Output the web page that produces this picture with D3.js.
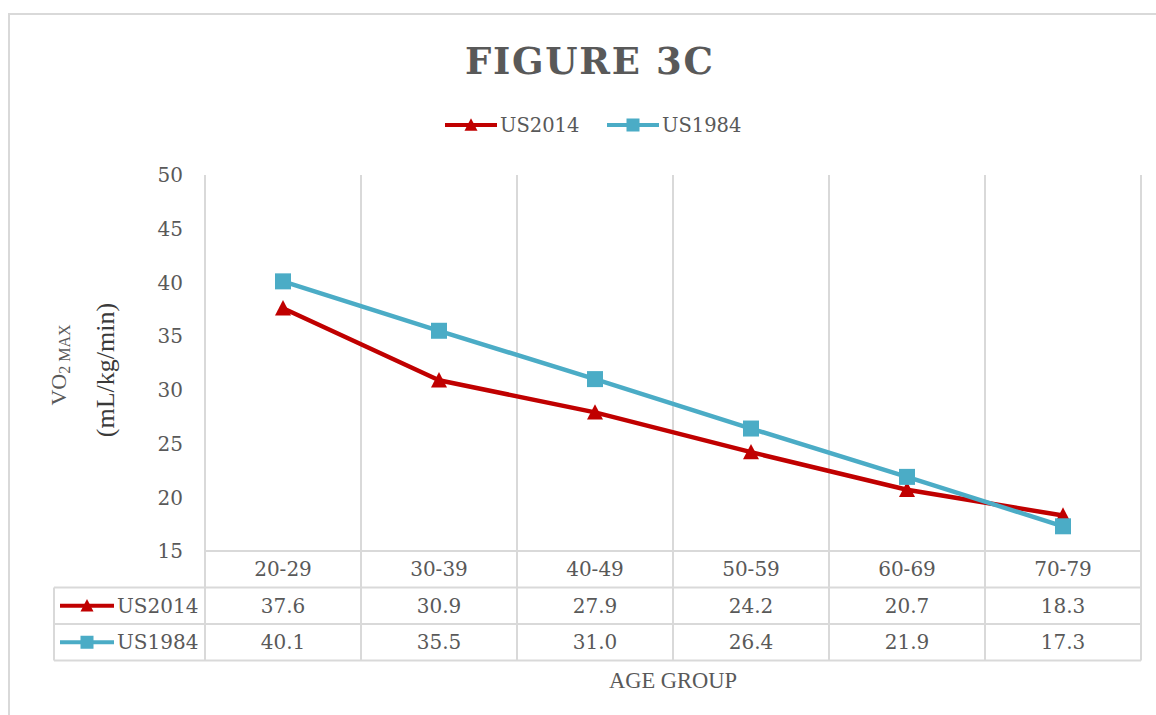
<!DOCTYPE html>
<html><head><meta charset="utf-8">
<script src="https://cdn.jsdelivr.net/npm/d3@7"></script>
<style>body{margin:0;background:#fff}svg{display:block}</style>
</head><body>
<svg id="c" width="1156" height="715"></svg>
<script>
const categories = ["20-29","30-39","40-49","50-59","60-69","70-79"];
const seriesNames = ["US2014","US1984"];
const us2014 = [37.6,30.9,27.9,24.2,20.7,18.3];
const us1984 = [40.1,35.5,31.0,26.4,21.9,17.3];
const yTicks = [15,20,25,30,35,40,45,50];
const title = "FIGURE 3C";
const xTitle = "AGE GROUP";

(function(){
const series = [
  {name: seriesNames[0], values: us2014, color: "#C00000", marker: "triangle"},
  {name: seriesNames[1], values: us1984, color: "#4BACC6", marker: "square"}
];

const svg = d3.select("#c");
const grid = "#d9d9d9", txt = "#595959";
const pL = 205, pR = 1141, pT = 175, pB = 551;
const rowH = 36.5, tableLeft = 54;

const x = d3.scaleBand().domain(categories).range([pL, pR]);
const y = d3.scaleLinear().domain([15, 50]).range([pB, pT]);

// outer frame
svg.append("path").attr("d", "M9,715 L9,14 L1156,14").attr("fill","none").attr("stroke", grid).attr("stroke-width", 2);

// title
svg.append("text").attr("x", 589).attr("y", 74).attr("text-anchor","middle")
  .attr("font-family","DejaVu Serif").attr("font-weight","bold").attr("font-size", 37)
  .attr("fill", txt).attr("textLength", 248).attr("lengthAdjust","spacing").text(title);

function drawMarker(g, type, cx, cy, s, color) {
  if (type === "square") {
    g.append("rect").attr("x", cx - s/2).attr("y", cy - s/2).attr("width", s).attr("height", s).attr("fill", color);
  } else {
    const h = s * 0.9;
    g.append("path").attr("d", `M${cx},${cy - h/2 - 1} L${cx + s/2},${cy + h/2} L${cx - s/2},${cy + h/2} Z`).attr("fill", color);
  }
}

// legend
const legX = [445, 607];
series.forEach((s, i) => {
  const g = svg.append("g");
  g.append("line").attr("x1", legX[i]).attr("x2", legX[i] + 52).attr("y1", 125).attr("y2", 125)
    .attr("stroke", s.color).attr("stroke-width", 4);
  drawMarker(g, s.marker, legX[i] + 26, 125, 13, s.color);
  g.append("text").attr("x", legX[i] + 55).attr("y", 132).attr("font-family","DejaVu Serif")
    .attr("font-size", 19.5).attr("fill", txt).text(s.name);
});

// vertical gridlines extending through the table
const bounds = categories.map(c => x(c)).concat([pR]);
bounds.forEach(bx => {
  svg.append("line").attr("x1", bx).attr("x2", bx).attr("y1", pT).attr("y2", pB + 3*rowH)
    .attr("stroke", grid).attr("stroke-width", 2);
});
[0,1,2,3].forEach(r => {
  const yy = pB + r*rowH;
  svg.append("line").attr("x1", r === 0 ? pL : tableLeft).attr("x2", pR)
    .attr("y1", yy).attr("y2", yy).attr("stroke", grid).attr("stroke-width", 2);
});
svg.append("line").attr("x1", tableLeft).attr("x2", tableLeft).attr("y1", pB + rowH).attr("y2", pB + 3*rowH)
  .attr("stroke", grid).attr("stroke-width", 2);

// y axis
const yAxis = d3.axisLeft(y).tickValues(yTicks).tickSize(0).tickPadding(22);
const ya = svg.append("g").attr("transform", `translate(${pL},0)`).call(yAxis);
ya.select(".domain").remove();
ya.selectAll("text").attr("font-family","DejaVu Serif").attr("font-size", 20).attr("fill", txt).attr("dy","0.34em");

// category row labels
const xAxis = d3.axisBottom(x).tickSize(0).tickPadding(0);
const xa = svg.append("g").attr("transform", `translate(0,${pB + rowH/2})`).call(xAxis);
xa.select(".domain").remove();
xa.selectAll("text").attr("font-family","DejaVu Serif").attr("font-size", 20).attr("fill", txt).attr("dy","0.34em");

// table data rows
series.forEach((s, i) => {
  const cy = pB + rowH*(i+1) + rowH/2;
  const g = svg.append("g");
  g.append("line").attr("x1", 60).attr("x2", 114).attr("y1", cy).attr("y2", cy)
    .attr("stroke", s.color).attr("stroke-width", 4);
  drawMarker(g, s.marker, 87, cy, 13, s.color);
  g.append("text").attr("x", 117).attr("y", cy).attr("dy","0.36em").attr("font-family","DejaVu Serif")
    .attr("font-size", 20).attr("fill", txt).text(s.name);
  g.selectAll("text.v").data(s.values).enter().append("text").attr("class","v")
    .attr("x", (d, j) => x(categories[j]) + x.bandwidth()/2).attr("y", cy).attr("dy","0.36em")
    .attr("text-anchor","middle").attr("font-family","DejaVu Serif").attr("font-size", 20)
    .attr("fill", txt).text(d => d.toFixed(1));
});

// lines
const line = d3.line().x((d, j) => x(categories[j]) + x.bandwidth()/2).y(d => y(d));
series.forEach(s => {
  const g = svg.append("g");
  g.append("path").datum(s.values).attr("d", line).attr("fill","none")
    .attr("stroke", s.color).attr("stroke-width", 4.5).attr("stroke-linejoin","round");
  s.values.forEach((v, j) => drawMarker(g, s.marker, x(categories[j]) + x.bandwidth()/2, y(v), 16, s.color));
});

// y axis title
const t1 = svg.append("text").attr("transform", "translate(66,365) rotate(-90)").attr("text-anchor","middle")
  .attr("font-family","Liberation Serif").attr("fill", txt);
t1.append("tspan").attr("font-size", 22).text("VO");
t1.append("tspan").attr("font-size", 16).attr("dy", 4).text("2 MAX");
svg.append("text").attr("transform", "translate(114,370) rotate(-90)").attr("text-anchor","middle")
  .attr("font-family","Liberation Serif").attr("font-size", 26).attr("fill", "#3a3a3a").text("(mL/kg/min)");

// x axis title
svg.append("text").attr("x", 673).attr("y", 688).attr("text-anchor","middle")
  .attr("font-family","Liberation Serif").attr("font-size", 22.5).attr("fill", txt).text(xTitle);
})();
</script>
</body></html>
